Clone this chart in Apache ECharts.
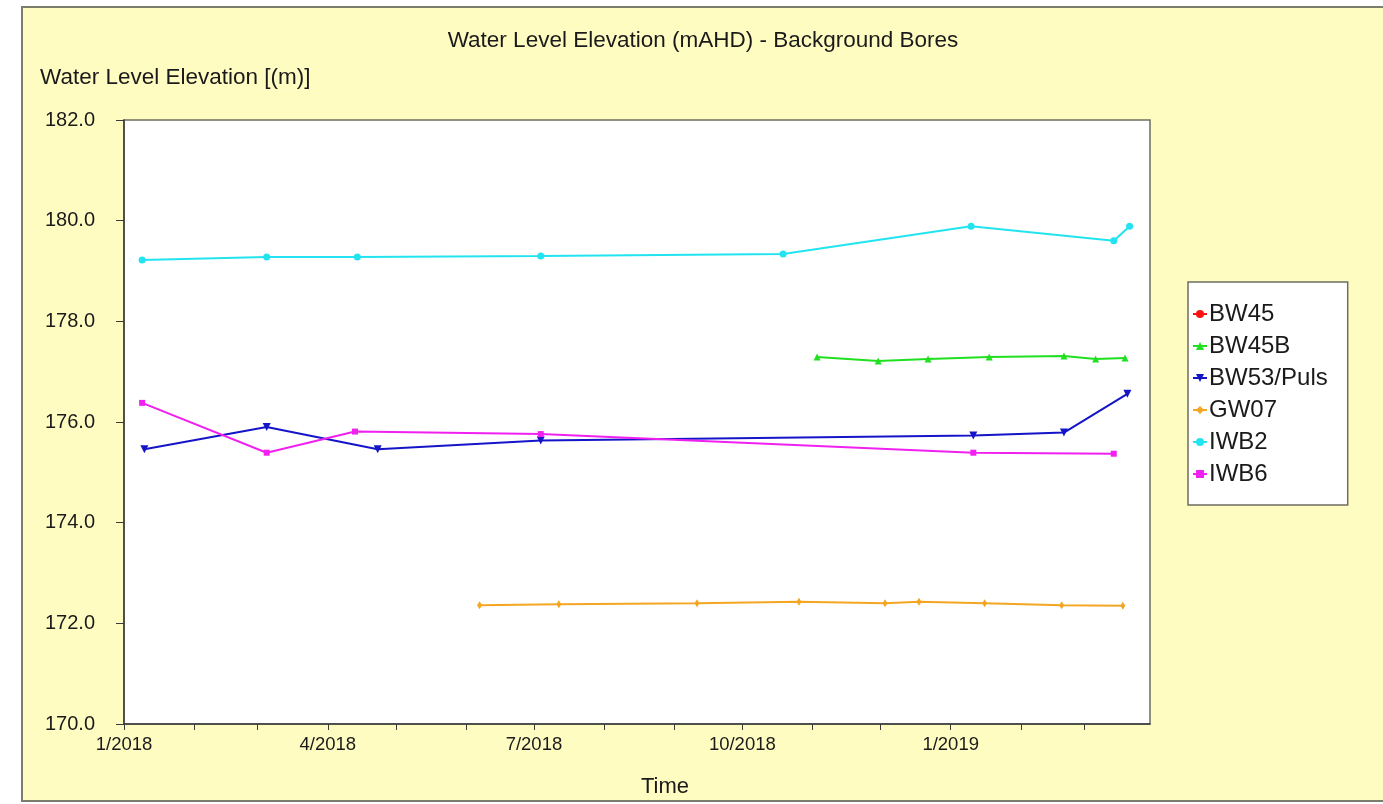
<!DOCTYPE html>
<html>
<head>
<meta charset="utf-8">
<script src="https://cdn.jsdelivr.net/npm/echarts@6/dist/echarts.min.js"></script>
<style>
html,body{margin:0;padding:0;background:#ffffff;}
#chart{width:1383px;height:804px;}
</style>
</head>
<body>
<div id="chart"></div>
<script>
// ---- data ----
const seriesNames = ['BW45', 'BW45B', 'BW53/Puls', 'GW07', 'IWB2', 'IWB6'];

const bw45Dates = [];
const bw45Values = [];

const bw45bDates = ['2018-11-03','2018-11-30','2018-12-22','2019-01-18','2019-02-20','2019-03-06','2019-03-19'];
const bw45bValues = [177.29, 177.21, 177.25, 177.29, 177.31, 177.25, 177.27];

const bw53Dates = ['2018-01-10','2018-03-05','2018-04-23','2018-07-04','2019-01-11','2019-02-20','2019-03-20'];
const bw53Values = [175.46, 175.90, 175.46, 175.63, 175.73, 175.79, 176.56];

const gw07Dates = ['2018-06-07','2018-07-12','2018-09-11','2018-10-26','2018-12-03','2018-12-18','2019-01-16','2019-02-19','2019-03-18'];
const gw07Values = [172.36, 172.38, 172.40, 172.43, 172.40, 172.43, 172.40, 172.36, 172.35];

const iwb2Dates = ['2018-01-09','2018-03-05','2018-04-14','2018-07-04','2018-10-19','2019-01-10','2019-03-14','2019-03-21'];
const iwb2Values = [179.22, 179.28, 179.28, 179.30, 179.34, 179.89, 179.60, 179.89];

const iwb6Dates = ['2018-01-09','2018-03-05','2018-04-13','2018-07-04','2019-01-11','2019-03-14'];
const iwb6Values = [176.38, 175.39, 175.81, 175.76, 175.39, 175.37];

const xLabelDates = ['2018-01-01','2018-04-01','2018-07-01','2018-10-01','2019-01-01'];
const xTickDates = ['2018-01-01','2018-02-01','2018-03-01','2018-04-01','2018-05-01','2018-06-01','2018-07-01',
  '2018-08-01','2018-09-01','2018-10-01','2018-11-01','2018-12-01','2019-01-01','2019-02-01','2019-03-01'];
const xMin = '2018-01-01';
const xMax = '2019-03-30';
const yMin = 170, yMax = 182, yStep = 2;

// ---- chart ----
const FONT = '"Liberation Sans", Arial, sans-serif';
const TXT = '#1a1a1a';
function ts(d){ const p = d.split('-').map(Number); return Date.UTC(p[0], p[1]-1, p[2]); }
function pairs(dates, vals){ return dates.map((d,i)=>[ts(d), vals[i]]); }

const styles = [
  {color:'#ff1010', symbol:'circle', size:6, rot:0},
  {color:'#20e020', symbol:'triangle', size:7, rot:0},
  {color:'#1414c8', symbol:'triangle', size:8, rot:180},
  {color:'#f4a623', symbol:'diamond', size:[5,8], rot:0},
  {color:'#22e4f0', symbol:'circle', size:7, rot:0},
  {color:'#f020f0', symbol:'rect', size:6, rot:0}
];
const allData = [
  pairs(bw45Dates, bw45Values),
  pairs(bw45bDates, bw45bValues),
  pairs(bw53Dates, bw53Values),
  pairs(gw07Dates, gw07Values),
  pairs(iwb2Dates, iwb2Values),
  pairs(iwb6Dates, iwb6Values)
];

const chart = echarts.init(document.getElementById('chart'), null, {renderer:'canvas'});
chart.setOption({
  animation: false,
  backgroundColor: '#ffffff',
  textStyle: {fontFamily: FONT},
  graphic: [{
    type: 'rect', z: -10, silent: true,
    shape: {x: 22, y: 7, width: 1380, height: 794},
    style: {fill: '#fffcc2', stroke: '#7d7d6e', lineWidth: 2}
  }],
  title: [
    {text: 'Water Level Elevation (mAHD) - Background Bores', left: 703, top: 29, textAlign: 'center', padding: 0,
     textStyle: {fontFamily: FONT, fontSize: 22.5, fontWeight: 'normal', color: TXT}},
    {text: 'Water Level Elevation [(m)]', left: 40, top: 66, padding: 0,
     textStyle: {fontFamily: FONT, fontSize: 22.5, fontWeight: 'normal', color: TXT}}
  ],
  legend: {
    orient: 'vertical', left: 1188, top: 282,
    data: seriesNames,
    backgroundColor: '#ffffff', borderColor: '#6e6e62', borderWidth: 1.5, borderRadius: 0,
    padding: [20, 20, 19, 4],
    itemWidth: 14, itemHeight: 10, itemGap: 8,
    textStyle: {fontFamily: FONT, fontSize: 24, color: TXT, lineHeight: 24, padding: [0,0,0,-3]}
  },
  grid: {left: 124, right: 233, top: 120, bottom: 80, show: true, backgroundColor: '#ffffff',
         borderColor: '#6e6e62', borderWidth: 1.5},
  xAxis: {
    type: 'value', min: ts(xMin), max: ts(xMax), scale: true,
    name: 'Time', nameLocation: 'middle', nameGap: 52,
    nameTextStyle: {fontFamily: FONT, fontSize: 22, color: TXT, padding: [0, 0, 0, 56]},
    axisLine: {lineStyle: {color: '#3a3a3a', width: 1.5}},
    axisTick: {show: true, inside: false, length: 6, lineStyle: {color: '#3a3a3a'},
               customValues: xTickDates.map(ts)},
    axisLabel: {fontFamily: FONT, fontSize: 18.5, color: TXT, margin: 11,
                customValues: xLabelDates.map(ts),
                formatter: function(v){ const d = new Date(v); return (d.getUTCMonth()+1) + '/' + d.getUTCFullYear(); }},
    splitLine: {show: false}
  },
  yAxis: {
    type: 'value', min: yMin, max: yMax, interval: yStep,
    axisLine: {show: true, lineStyle: {color: '#3a3a3a', width: 1.5}},
    axisTick: {show: true, length: 8, lineStyle: {color: '#3a3a3a'}},
    axisLabel: {fontFamily: FONT, fontSize: 20, color: TXT, margin: 29,
                formatter: function(v){ return v.toFixed(1); }},
    splitLine: {show: false}
  },
  series: seriesNames.map((n, i) => ({
    name: n, type: 'line', data: allData[i],
    symbol: styles[i].symbol, symbolSize: styles[i].size, symbolRotate: styles[i].rot,
    showAllSymbol: true,
    lineStyle: {color: styles[i].color, width: 2},
    itemStyle: {color: styles[i].color},
    emphasis: {disabled: true}
  }))
});
</script>
</body>
</html>
